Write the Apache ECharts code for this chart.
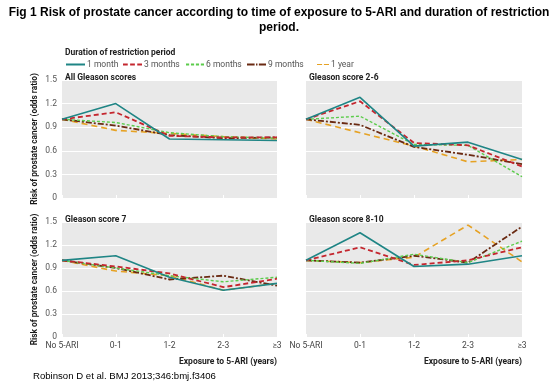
<!DOCTYPE html>
<html><head><meta charset="utf-8">
<script src="https://cdn.jsdelivr.net/npm/echarts@6/dist/echarts.min.js"></script>
<style>html,body{margin:0;padding:0;background:#fff}#c{width:557px;height:388px}</style>
</head><body><div id="c"></div>
<script>
const categories = ['No 5-ARI', '0-1', '1-2', '2-3', '≥3'];
const seriesNames = ['1 month', '3 months', '6 months', '9 months', '1 year'];
const yTicks = [0, 0.3, 0.6, 0.9, 1.2, 1.5];
const panelTitles = ['All Gleason scores', 'Gleason score 2-6', 'Gleason score 7', 'Gleason score 8-10'];

// All Gleason scores
const allM1 = [1.0, 1.20, 0.75, 0.74, 0.73];
const allM3 = [1.0, 1.09, 0.79, 0.77, 0.77];
const allM6 = [1.0, 0.96, 0.83, 0.78, 0.76];
const allM9 = [1.0, 0.92, 0.80, 0.76, 0.77];
const allY1 = [1.0, 0.86, 0.82, 0.78, 0.75];
// Gleason score 2-6
const g26M1 = [1.0, 1.28, 0.66, 0.71, 0.49];
const g26M3 = [1.0, 1.23, 0.70, 0.67, 0.40];
const g26M6 = [1.0, 1.04, 0.68, 0.67, 0.27];
const g26M9 = [1.0, 0.93, 0.65, 0.55, 0.43];
const g26Y1 = [1.0, 0.83, 0.66, 0.46, 0.49];
// Gleason score 7
const g7M1 = [1.0, 1.06, 0.78, 0.61, 0.70];
const g7M3 = [1.0, 0.92, 0.83, 0.65, 0.76];
const g7M6 = [1.0, 0.90, 0.80, 0.72, 0.78];
const g7M9 = [1.0, 0.90, 0.75, 0.80, 0.67];
const g7Y1 = [1.0, 0.86, 0.80, 0.61, 0.70];
// Gleason score 8-10
const g810M1 = [1.0, 1.36, 0.92, 0.95, 1.06];
const g810M3 = [1.0, 1.17, 0.94, 1.00, 1.17];
const g810M6 = [1.0, 0.96, 1.08, 0.97, 1.25];
const g810M9 = [1.0, 0.97, 1.06, 0.97, 1.44];
const g810Y1 = [1.0, 0.97, 1.04, 1.46, 0.98];

const panelData = [
  [allM1, allM3, allM6, allM9, allY1],
  [g26M1, g26M3, g26M6, g26M9, g26Y1],
  [g7M1, g7M3, g7M6, g7M9, g7Y1],
  [g810M1, g810M3, g810M6, g810M9, g810Y1]
];

const colors = ['#1f8585', '#c4262e', '#5ccc4c', '#6a2a12', '#e6a224'];
const styles = [
  {type: 'solid', width: 1.6},
  {type: [5, 3], width: 1.8},
  {type: [3, 2], width: 1.4},
  {type: [6, 2, 2, 2], width: 1.8},
  {type: [6, 4], width: 1.6}
];
// legend icon dash segments [start, end] in a 20-unit line
const iconSegs = [
  [[0, 20]],
  [[0, 5], [7.5, 12.5], [15, 20]],
  [[0, 3.5], [5.5, 9], [11, 14.5], [16.5, 20]],
  [[0, 8], [9.5, 11], [12.5, 20]],
  [[0, 8.5], [11.5, 20]]
];
const legendLeft = [61, 118, 181, 242, 312];
const legendW = [19, 19, 18, 19, 12];
const font = 'Roboto';
const grids = [
  {left: 62, top: 80, width: 215, height: 118},
  {left: 306, top: 80, width: 216, height: 118},
  {left: 62, top: 222, width: 215, height: 115},
  {left: 306, top: 222, width: 216, height: 115}
];
const xAxes = grids.map((g, i) => ({
  type: 'category', gridIndex: i, data: categories, boundaryGap: false,
  axisLine: {show: false},
  axisTick: {show: true, inside: true, length: 3, lineStyle: {color: '#ffffff', width: 1}},
  axisLabel: {show: i >= 2, fontFamily: font, fontSize: 8.5, color: '#444', margin: 4},
  name: i >= 2 ? 'Exposure to 5-ARI (years)' : '',
  nameLocation: 'end', nameGap: 0,
  nameTextStyle: {fontFamily: font, fontSize: 8.5, fontWeight: 'bold', color: '#222', align: 'right', verticalAlign: 'top', padding: [20, 0, 0, 0]},
  splitLine: {show: false}, z: 3
}));
const yAxes = grids.map((g, i) => ({
  type: 'value', gridIndex: i, min: 0, max: 1.5, interval: 0.3,
  axisLine: {show: false}, axisTick: {show: false},
  axisLabel: {show: i % 2 === 0, fontFamily: font, fontSize: 8.5, color: '#555', margin: 5,
    formatter: v => (yTicks.indexOf(Math.round(v*10)/10) >= 0 ? (Math.round(v*10)/10).toString() : '')},
  splitLine: {show: true, lineStyle: {color: '#ffffff', width: 1.2}},
  name: i % 2 === 0 ? 'Risk of prostate cancer (odds ratio)' : '',
  nameLocation: 'middle', nameGap: 23, nameRotate: 90,
  nameTextStyle: {fontFamily: font, fontSize: 8.3, fontWeight: 'bold', color: '#1a1a1a'}
}));
const series = [];
panelData.forEach((p, gi) => {
  p.forEach((vals, si) => {
    series.push({
      name: seriesNames[si], type: 'line', xAxisIndex: gi, yAxisIndex: gi,
      data: vals, symbol: 'none', smooth: false, animation: false,
      lineStyle: {color: colors[si], width: styles[si].width, type: styles[si].type},
      itemStyle: {color: colors[si]}, z: 10 - si
    });
  });
});
const small = {fontFamily: font, fontSize: 8.5, fontWeight: 'bold', color: '#222'};
const titles = [
  {text: 'Duration of restriction period', left: 60, top: 43, textStyle: small},
  {text: panelTitles[0], left: 60, top: 68, textStyle: small},
  {text: panelTitles[1], left: 304, top: 68, textStyle: small},
  {text: panelTitles[2], left: 60, top: 210, textStyle: small},
  {text: panelTitles[3], left: 304, top: 210, textStyle: small}
];
function iconPath(segs) {
  return 'path://' + segs.map(s => `M${s[0]},0L${s[1]},0L${s[1]},2L${s[0]},2Z`).join('') + 'M0,0L0,0.01M20,0L20,0.01';
}
const legends = seriesNames.map((n, i) => ({
  data: [{name: n, icon: iconPath(iconSegs[i])}],
  left: legendLeft[i], top: 55, itemWidth: legendW[i], itemHeight: 2, itemGap: 0,
  textStyle: {fontFamily: font, fontSize: 8.5, color: '#555', padding: [0, 0, 0, -3]},
  selectedMode: false
}));
const chart = echarts.init(document.getElementById('c'), null, {renderer: 'canvas'});
chart.setOption({
  animation: false,
  backgroundColor: '#ffffff',
  title: titles,
  legend: legends,
  graphic: [
    {type: 'text', x: 279, y: 7, style: {text: 'Fig 1 Risk of prostate cancer according to time of exposure to 5-ARI and duration of restriction',
      align: 'center', textAlign: 'center', font: 'bold 12px "Liberation Sans"', fill: '#000'}},
    {type: 'text', x: 279, y: 22, style: {text: 'period.',
      align: 'center', textAlign: 'center', font: 'bold 12px "Liberation Sans"', fill: '#000'}},
    {type: 'text', x: 33, y: 371, style: {text: 'Robinson D et al. BMJ 2013;346:bmj.f3406', font: '9.6px "Liberation Sans"', fill: '#000'}}
  ],
  grid: grids.map(g => Object.assign({containLabel: false, backgroundColor: '#e9e9e9', show: true, borderWidth: 0}, g)),
  xAxis: xAxes,
  yAxis: yAxes,
  series: series
});
</script></body></html>
